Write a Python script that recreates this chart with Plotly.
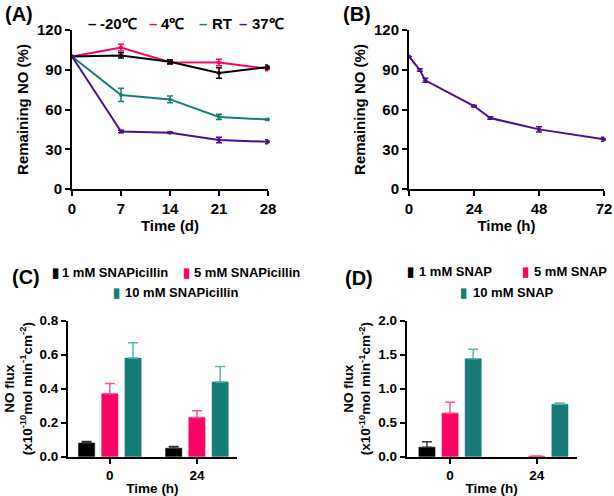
import plotly.graph_objects as go

# ---------------- data ----------------
days = [0, 7, 14, 21, 28]
neg20 = [100, 100.8, 96, 87.5, 92]
neg20_err = [0, 2, 1.5, 4, 1.5]
c4 = [100, 106.7, 95.6, 95.5, 90.8]
c4_err = [0, 2.5, 1.5, 2.5, 1.5]
rt = [100, 71, 67.6, 54.4, 52.4]
rt_err = [0, 5, 2.5, 2, 0.5]
c37 = [100, 43.4, 42.5, 37, 35.6]
c37_err = [0, 1, 0.5, 2, 1.5]

hours = [0, 4, 6, 24, 30, 48, 72]
remB = [100, 89.8, 82, 62.6, 53.6, 45, 37.5]
remB_err = [0, 1, 1.5, 0.5, 1, 2, 1.5]

bar_times = ["0", "24"]
snapi_1 = [0.08, 0.05]
snapi_1_err = [0.01, 0.01]
snapi_5 = [0.37, 0.23]
snapi_5_err = [0.06, 0.04]
snapi_10 = [0.58, 0.44]
snapi_10_err = [0.09, 0.09]

snap_1 = [0.14, None]
snap_1_err = [0.08, None]
snap_5 = [0.64, 0.01]
snap_5_err = [0.16, 0.0]
snap_10 = [1.44, 0.77]
snap_10_err = [0.14, 0.02]

BLACK = "#000000"
PINK = "#FF0066"
TEAL = "#177B78"
PURPLE = "#4B0F8F"
PINK_ERR = "#F2588F"
TEAL_ERR = "#5CB3B0"

FONT = "Arial, Liberation Sans, sans-serif"
W, H = 614, 496

def px(x):
    return x / W

def py(y):
    return 1 - y / H

fig = go.Figure()

def line_trace(x, y, err, color, xa, ya):
    fig.add_trace(go.Scatter(
        x=x, y=y, mode="lines+markers", xaxis=xa, yaxis=ya,
        line=dict(color=color, width=2),
        marker=dict(color=color, size=4),
        error_y=dict(type="data", array=err, color=color, thickness=1.5, width=3),
        showlegend=False, cliponaxis=False))

line_trace(days, c4, c4_err, PINK, "x", "y")
line_trace(days, neg20, neg20_err, BLACK, "x", "y")
line_trace(days, rt, rt_err, TEAL, "x", "y")
line_trace(days, c37, c37_err, PURPLE, "x", "y")
line_trace(hours, remB, remB_err, PURPLE, "x2", "y2")

def bar_trace(x, y, err, color, ecolor, xa, ya):
    fig.add_trace(go.Bar(
        x=x, y=y, xaxis=xa, yaxis=ya,
        marker=dict(color=color, line=dict(color=color, width=0.5)),
        error_y=dict(type="data", symmetric=False, array=err, arrayminus=[0] * len(err),
                     color=ecolor, thickness=1.5, width=5),
        showlegend=False))

bar_trace(bar_times, snapi_1, snapi_1_err, BLACK, "#333333", "x3", "y3")
bar_trace(bar_times, snapi_5, snapi_5_err, PINK, PINK_ERR, "x3", "y3")
bar_trace(bar_times, snapi_10, snapi_10_err, TEAL, TEAL_ERR, "x3", "y3")
bar_trace(bar_times, snap_1, snap_1_err, BLACK, "#333333", "x4", "y4")
bar_trace(bar_times, snap_5, snap_5_err, PINK, PINK_ERR, "x4", "y4")
bar_trace(bar_times, snap_10, snap_10_err, TEAL, TEAL_ERR, "x4", "y4")

def axis_style(size):
    return dict(showgrid=False, zeroline=False, showline=True, linecolor="black",
                linewidth=2, ticks="outside", ticklen=5, tickwidth=2, tickcolor="black",
                automargin=False,
                tickfont=dict(size=size, color="black", family=FONT, weight="bold"))

big = axis_style(15)
small = axis_style(13.5)

def tfont(size):
    return dict(size=size, color="black", family=FONT, weight="bold")

flux_title = "NO flux<br>(x10<sup>-10</sup>mol min<sup>-1</sup>cm<sup>-2</sup>)"

fig.update_layout(
    width=W, height=H, margin=dict(l=0, r=0, t=0, b=0, pad=0),
    paper_bgcolor="white", plot_bgcolor="white",
    font=dict(family=FONT, color="black", weight="bold"),
    barmode="group", bargap=0.2, bargroupgap=0.3,
    xaxis=dict(domain=[px(72), px(268)], anchor="y", range=[0, 28], tickvals=days,
               title=dict(text="Time (d)", font=tfont(15), standoff=3), **big),
    yaxis=dict(domain=[py(189), py(30)], anchor="x", range=[0, 120], tickvals=[0, 30, 60, 90, 120],
               title=dict(text="Remaining NO (%)", font=tfont(15), standoff=5), **big),
    xaxis2=dict(domain=[px(409), px(604)], anchor="y2", range=[0, 72], tickvals=[0, 24, 48, 72],
                title=dict(text="Time (h)", font=tfont(15), standoff=3), **big),
    yaxis2=dict(domain=[py(189), py(30)], anchor="x2", range=[0, 120], tickvals=[0, 30, 60, 90, 120],
                title=dict(text="Remaining NO (%)", font=tfont(15), standoff=5), **big),
    xaxis3=dict(domain=[px(68), px(237)], anchor="y3", type="category", range=[-0.48, 1.46],
                title=dict(text="Time (h)", font=tfont(13.5), standoff=3), **small),
    yaxis3=dict(domain=[py(456.7), py(320.7)], anchor="x3", range=[0, 0.8],
                tickvals=[0, 0.2, 0.4, 0.6, 0.8], tickformat=".1f",
                title=dict(text=flux_title, font=tfont(13.5), standoff=4), **small),
    xaxis4=dict(domain=[px(406.7), px(576.7)], anchor="y4", type="category", range=[-0.5, 1.46],
                title=dict(text="Time (h)", font=tfont(13.5), standoff=3), **small),
    yaxis4=dict(domain=[py(456.7), py(320.7)], anchor="x4", range=[0, 2.0],
                tickvals=[0, 0.5, 1.0, 1.5, 2.0], tickformat=".1f",
                title=dict(text=flux_title, font=tfont(13.5), standoff=4), **small),
)

annotations = []

def text_at(text, x, y, size, anchor="left", color="black"):
    annotations.append(dict(text=text, x=px(x), y=py(y), xref="paper", yref="paper",
                            showarrow=False, xanchor=anchor, yanchor="middle", align="left",
                            borderpad=0, font=tfont(size) | dict(color=color)))

text_at("(A)", 19, 14, 20, "center")
text_at("(B)", 357, 14, 20, "center")
text_at("(C)", 26, 277, 20, "center")
text_at("(D)", 359, 278, 20, "center")

def legend_item(symbol, color, text, sx, tx, y, size):
    text_at(symbol, sx, y, size, "center", color)
    text_at(text, tx, y, size, "left")

legend_item("–", BLACK, "-20℃", 92, 99, 24, 15)
legend_item("–", PINK, "4℃", 153, 160, 24, 15)
legend_item("–", TEAL, "RT", 203, 211, 24, 15)
legend_item("–", PURPLE, "37℃", 243, 251, 24, 15)

legend_item("▮", BLACK, "1 mM SNAPicillin", 55, 61, 272, 13)
legend_item("▮", PINK, "5 mM SNAPicillin", 186, 193, 272, 13)
legend_item("▮", TEAL, "10 mM SNAPicillin", 116, 124, 292, 13)

legend_item("▮", BLACK, "1 mM SNAP", 410, 418, 271, 13)
legend_item("▮", PINK, "5 mM SNAP", 525, 533, 271, 13)
legend_item("▮", TEAL, "10 mM SNAP", 463, 472, 292, 13)

fig.update_layout(annotations=annotations)

fig.write_html("out.html", config={"displayModeBar": False},
               post_script="document.body.style.margin='0';document.body.style.overflow='hidden';")
